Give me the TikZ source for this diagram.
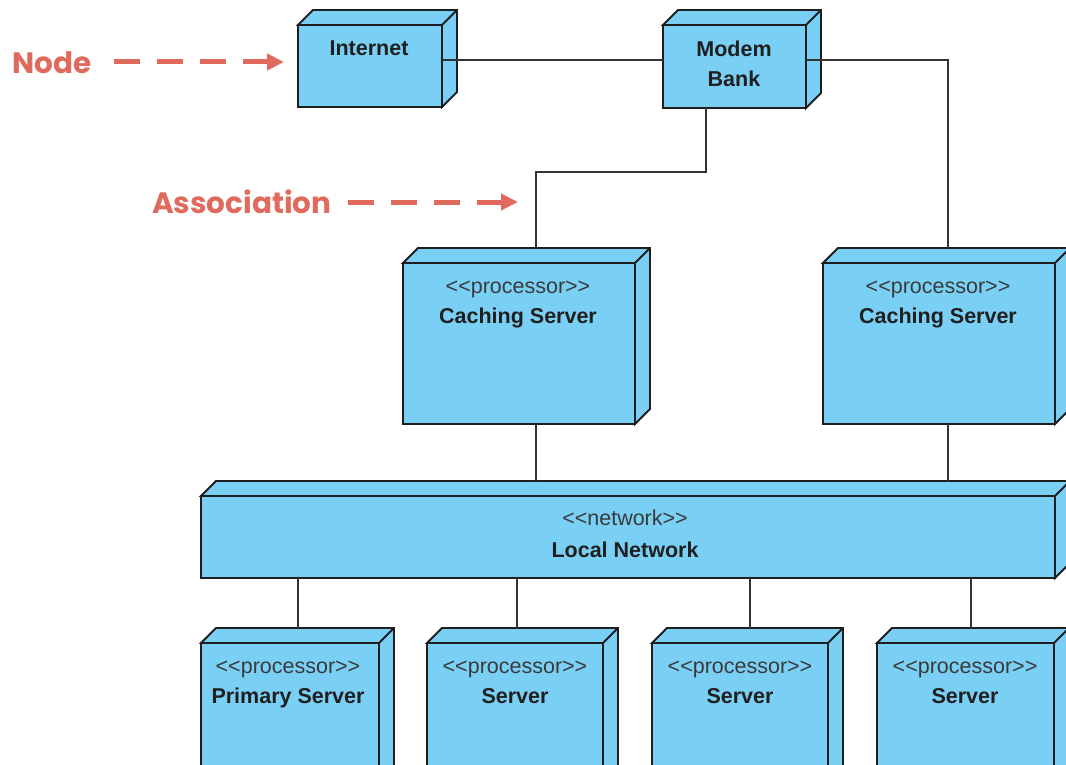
\documentclass[tikz,border=0pt]{standalone}
\usepackage{fontspec}
\setmainfont{Liberation Sans}
\newfontfamily\annfont{Poppins}
\usetikzlibrary{arrows.meta}
\definecolor{nodefill}{HTML}{7ACFF5}
\definecolor{edgecol}{HTML}{1E1E1E}
\definecolor{linecol}{HTML}{333333}
\definecolor{notecol}{HTML}{E06A5E}
\definecolor{stereocol}{HTML}{3A3A3A}
\newcommand\stl{<\kern0pt<}
\newcommand\str{>\kern0pt>}
% name, left x, front top y, width, height
\newcommand\dnode[5]{%
  \node[front, anchor=north west, minimum width=#4, minimum height=#5] (#1) at (#2,#3) {};
  \filldraw[face] (#1.north west) -- ++(15,-15) -- ++(#4,0) -- ++(0,#5) -- ++(-15,15) -- (#1.north east) -- cycle;
  \draw[face] (#1.north east) -- ++(15,-15);
  \coordinate (#1-t) at ([yshift=15pt]#1.north);
}
\begin{document}
\begin{tikzpicture}[x=1pt,y=-1pt,
  front/.style={draw=edgecol, fill=nodefill, line width=1.9pt, rectangle, inner sep=0pt, outer sep=0pt},
  face/.style={draw=edgecol, fill=nodefill, line width=1.9pt, line join=miter},
  assoc/.style={draw=linecol, line width=2pt},
  nm/.style={font=\fontsize{21.5}{30}\selectfont\bfseries, text=black!88, inner sep=0pt, anchor=base},
  st/.style={font=\fontsize{21.5}{24}\selectfont, text=stereocol, inner sep=0pt, anchor=base},
  note/.style={draw=notecol, line width=5pt, dash pattern=on 26pt off 17pt, -{Triangle[length=17pt,width=16pt]}},
  notetext/.style={font=\annfont\bfseries\fontsize{29.5}{36}\selectfont, text=notecol, inner sep=0pt, anchor=base west}]
\clip (0,0) rectangle (1066,765);
\useasboundingbox (0,0) rectangle (1066,765);

% nodes
\dnode{inet}{298}{25}{144}{82}
\dnode{modem}{663}{25}{143}{83}
\dnode{cs1}{403}{263}{232}{161}
\dnode{cs2}{823}{263}{232}{161}
\dnode{net}{201}{496}{854}{82}
\dnode{ps}{201}{643}{178}{150}
\dnode{sa}{427}{643}{176}{150}
\dnode{sb}{652}{643}{176}{150}
\dnode{sc}{877}{643}{177}{150}

% labels
\node[nm] (inet-l) at (369,56) {Internet};
\node[nm, align=center, anchor=north] (modem-l) at (734,41) {Modem\\Bank};
\node[st] (cs1-s) at (518,293) {\stl processor\str};
\node[nm] (cs1-l) at (518,323) {Caching Server};
\node[st] (cs2-s) at (938,293) {\stl processor\str};
\node[nm] (cs2-l) at (938,323) {Caching Server};
\node[st] (net-s) at (625,525) {\stl network\str};
\node[nm] (net-l) at (625,557) {Local Network};
\node[st] (ps-s) at (288,673) {\stl processor\str};
\node[nm] (ps-l) at (288,703) {Primary Server};
\node[st] (sa-s) at (515,673) {\stl processor\str};
\node[nm] (sa-l) at (515,703) {Server};
\node[st] (sb-s) at (740,673) {\stl processor\str};
\node[nm] (sb-l) at (740,703) {Server};
\node[st] (sc-s) at (965,673) {\stl processor\str};
\node[nm] (sc-l) at (965,703) {Server};

% associations
\draw[assoc] (inet.east |- 0,60) -- (modem.west |- 0,60);
\draw[assoc] (modem.east |- 0,60) -| (cs2-t -| 948,0);
\draw[assoc] (modem.south -| 706,0) |- (536,172) -- (cs1-t -| 536,0);
\draw[assoc] (cs1.south -| 536,0) -- (net-t -| 536,0);
\draw[assoc] (cs2.south -| 948,0) -- (net-t -| 948,0);
\draw[assoc] (net.south -| 298,0) -- (ps-t -| 298,0);
\draw[assoc] (net.south -| 517,0) -- (sa-t -| 517,0);
\draw[assoc] (net.south -| 750,0) -- (sb-t -| 750,0);
\draw[assoc] (net.south -| 971,0) -- (sc-t -| 971,0);

% annotations
\node[notetext] (nodeNote) at (12,74) {Node};
\coordinate (nodeNoteA) at (114,62);
\coordinate (nodeNoteB) at (284,62);
\draw[note] (nodeNoteA) -- (nodeNoteB);
\node[notetext] (assocNote) at (152,214) {Association};
\coordinate (assocNoteA) at (348,202);
\coordinate (assocNoteB) at (518,202);
\draw[note] (assocNoteA) -- (assocNoteB);
\end{tikzpicture}
\end{document}
